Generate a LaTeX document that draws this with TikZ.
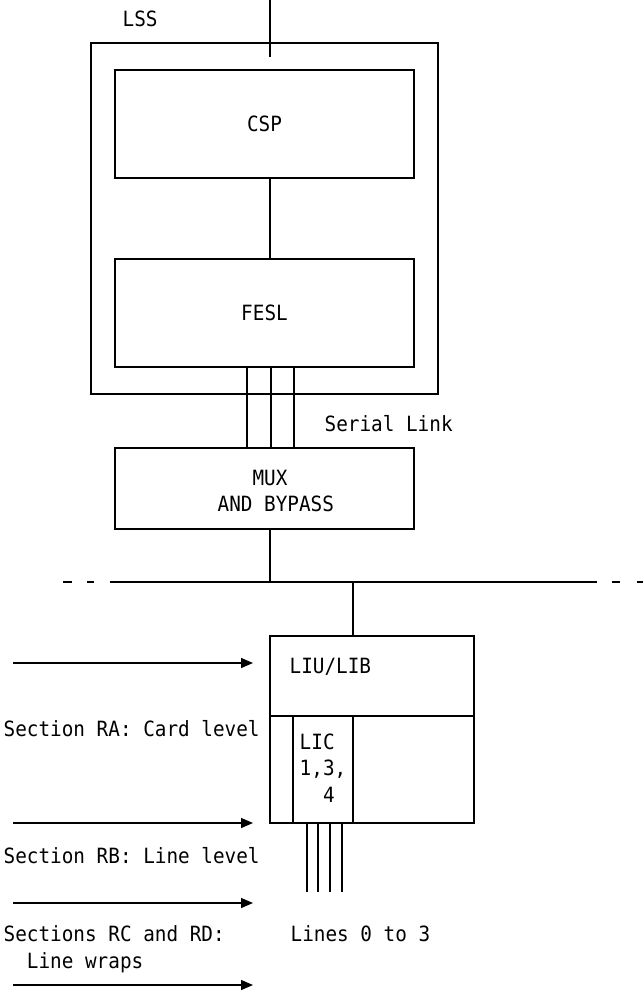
\documentclass[tikz,border=0pt]{standalone}
\usepackage{fontspec}
\setmonofont[FakeStretch=0.92]{DejaVu Sans Mono}
\usetikzlibrary{arrows.meta,positioning}

\begin{document}
\begin{tikzpicture}[x=1pt,y=-1pt,line width=1.4pt,
 every node/.style={font=\ttfamily\fontsize{21}{26.5}\selectfont,inner sep=0pt},
 b/.style={draw,minimum width=299pt,minimum height=108pt},
 arr/.style={-{Triangle[length=12pt,width=10pt]}}]
\useasboundingbox (0,0) rectangle (644,994);
% subsystem and its two parts
\node[b,minimum width=347pt,minimum height=351pt] (lss) at (264.5,218.5) {};
\node[anchor=base west] (lsst) at (122,26) {LSS};
\node[b] (csp) at (264.5,124) {CSP};
\node[b] (fesl) at (264.5,313) {FESL};
\node[b,minimum height=81pt] (mux) at (264.5,488.5) {};
\node[anchor=north west,align=left] (muxt) at (217,469) {\phantom{AND}MUX\\AND BYPASS};
\node[anchor=base west] (ser) at (324,431) {Serial Link};
% line interface unit
\node[b,minimum width=204pt,minimum height=80pt] (liu) at (372,676) {};
\node[anchor=base west] (liut) at (289,673) {LIU/LIB};
\node[b,minimum width=204pt,minimum height=107pt] (cards) at (372,769.5) {};
\node[draw,minimum width=60pt,minimum height=107pt,align=left] (lic) at (323,769.5) {LIC\\1,3,\\\phantom{1,}4};
\node[anchor=base west] (lines) at (290,941) {Lines 0 to 3};
% connections
\coordinate (feed) at (270,0);
\draw (feed) -- ++(0,57);
\draw ([xshift=5.5pt]csp.south) -- ([xshift=5.5pt]fesl.north);
\foreach \d in {-17.5,6.5,29.5}
  \draw ([xshift=\d pt]fesl.south) -- ([xshift=\d pt]mux.north);
\coordinate (busl) at (110,582);
\coordinate (busr) at (597,582);
\coordinate (tap1) at (270,582);
\coordinate (tap2) at (353,582);
\draw (busl) -- (busr);
\draw[dash pattern=on 9pt off 15pt] ([xshift=-47pt]busl) -- ([xshift=-16pt]busl);
\draw[dash pattern=on 8pt off 17pt] ([xshift=15pt]busr) -- ([xshift=46pt]busr);
\draw ([xshift=5.5pt]mux.south) -- (tap1);
\draw (tap2) -- ([xshift=-19pt]liu.north);
\coordinate (lend) at (323,892);
\foreach \d in {-16,-5,7,19}
  \draw ([xshift=\d pt]lic.south) -- ([xshift=\d pt]lend);
% sections
\foreach \y [count=\i] in {663,823,903,985}{
  \coordinate (a\i) at (13,\y);
  \coordinate (b\i) at (253,\y);
  \draw[arr] (a\i) -- (b\i);
}
\node[anchor=base west] (ra) at (3,736) {Section RA: Card level};
\node[anchor=base west] (rb) at (3,863) {Section RB: Line level};
\node[anchor=north west,align=left] (rc) at (3,925) {Sections RC and RD:\\\phantom{Se}Line wraps};
\end{tikzpicture}
\end{document}
